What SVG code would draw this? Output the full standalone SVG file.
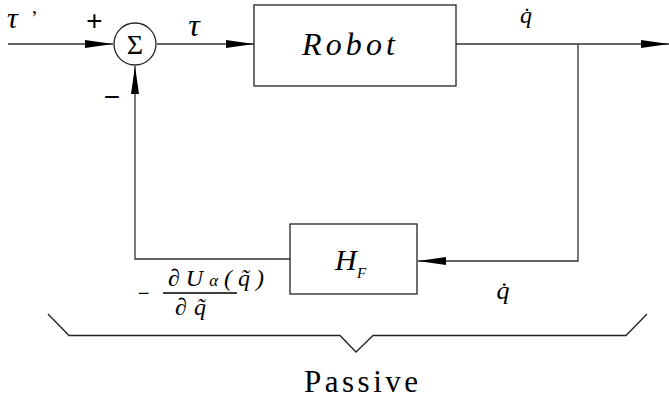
<svg xmlns="http://www.w3.org/2000/svg" width="669" height="398" viewBox="0 0 669 398">
<defs>
<marker id="ah" markerUnits="userSpaceOnUse" markerWidth="30" markerHeight="10" refX="28" refY="4.5" orient="auto">
<path d="M0,0.5 L28,4.5 L0,8.5 Z" fill="#000"/>
</marker>
</defs>
<style>
.ln{fill:none;stroke:#333;stroke-width:1.3}
.box{fill:#fff;stroke:#222;stroke-width:1.3}
.mi{font-family:"Liberation Serif","DejaVu Serif",serif;font-style:italic;fill:#000}
.rm{font-family:"Liberation Serif","DejaVu Serif",serif;fill:#000}
.sg{font-family:"Liberation Sans","DejaVu Sans",sans-serif;fill:#000}
</style>
<rect width="669" height="398" fill="#fff"/>
<g id="connectors">
<line class="ln" x1="8" y1="44" x2="113" y2="44" marker-end="url(#ah)"/>
<line class="ln" x1="157" y1="44" x2="254" y2="44" marker-end="url(#ah)"/>
<line class="ln" x1="456" y1="44" x2="669" y2="44" marker-end="url(#ah)"/>
<polyline class="ln" points="578,44 578,261 418,261" marker-end="url(#ah)"/>
<polyline class="ln" points="290,259 135,259 135,66" marker-end="url(#ah)"/>
</g>
<g id="sum">
<circle class="box" cx="135" cy="44" r="21"/>
<text class="rm" x="135" y="54" font-size="28" text-anchor="middle">Σ</text>
</g>
<g id="robot">
<rect class="box" x="254" y="5" width="202" height="81"/>
<text class="mi" x="302" y="55" font-size="32" textLength="93" lengthAdjust="spacing">Robot</text>
</g>
<g id="hf">
<rect class="box" x="290" y="224" width="127" height="70"/>
<text class="mi" x="335" y="270" font-size="30">H</text>
<text class="mi" x="357" y="278" font-size="15">F</text>
</g>
<g id="labels">
<text class="mi" x="7" y="28" font-size="30">τ</text>
<text class="rm" x="31" y="25" font-size="20">’</text>
<text class="sg" x="94" y="30" font-size="28" text-anchor="middle" font-style="italic">+</text>
<text class="sg" x="112" y="106" font-size="28" text-anchor="middle">−</text>
<text class="mi" x="194" y="36" font-size="32" text-anchor="middle">τ</text>
<text class="mi" x="526" y="23" font-size="24" text-anchor="middle">q̇</text>
<text class="mi" x="503" y="299" font-size="26" text-anchor="middle">q̇</text>
<text class="sg" x="143.5" y="300" font-size="20" text-anchor="middle">−</text>
<text class="mi" x="168" y="286" font-size="24" textLength="96" lengthAdjust="spacing">∂U<tspan font-size="17">α</tspan>(q̃)</text>
<line x1="163" y1="293" x2="237" y2="293" stroke="#000" stroke-width="1.3"/>
<text class="mi" x="175" y="315" font-size="24" textLength="31" lengthAdjust="spacing">∂q̃</text>
<text class="rm" x="304" y="392" font-size="31" textLength="114" lengthAdjust="spacing">Passive</text>
</g>
<g id="brace">
<polyline points="48,314 69,335.5 340,335.5 356,352 373,335.5 626,335.5 647,314" fill="none" stroke="#222" stroke-width="1.3"/>
</g>
</svg>
